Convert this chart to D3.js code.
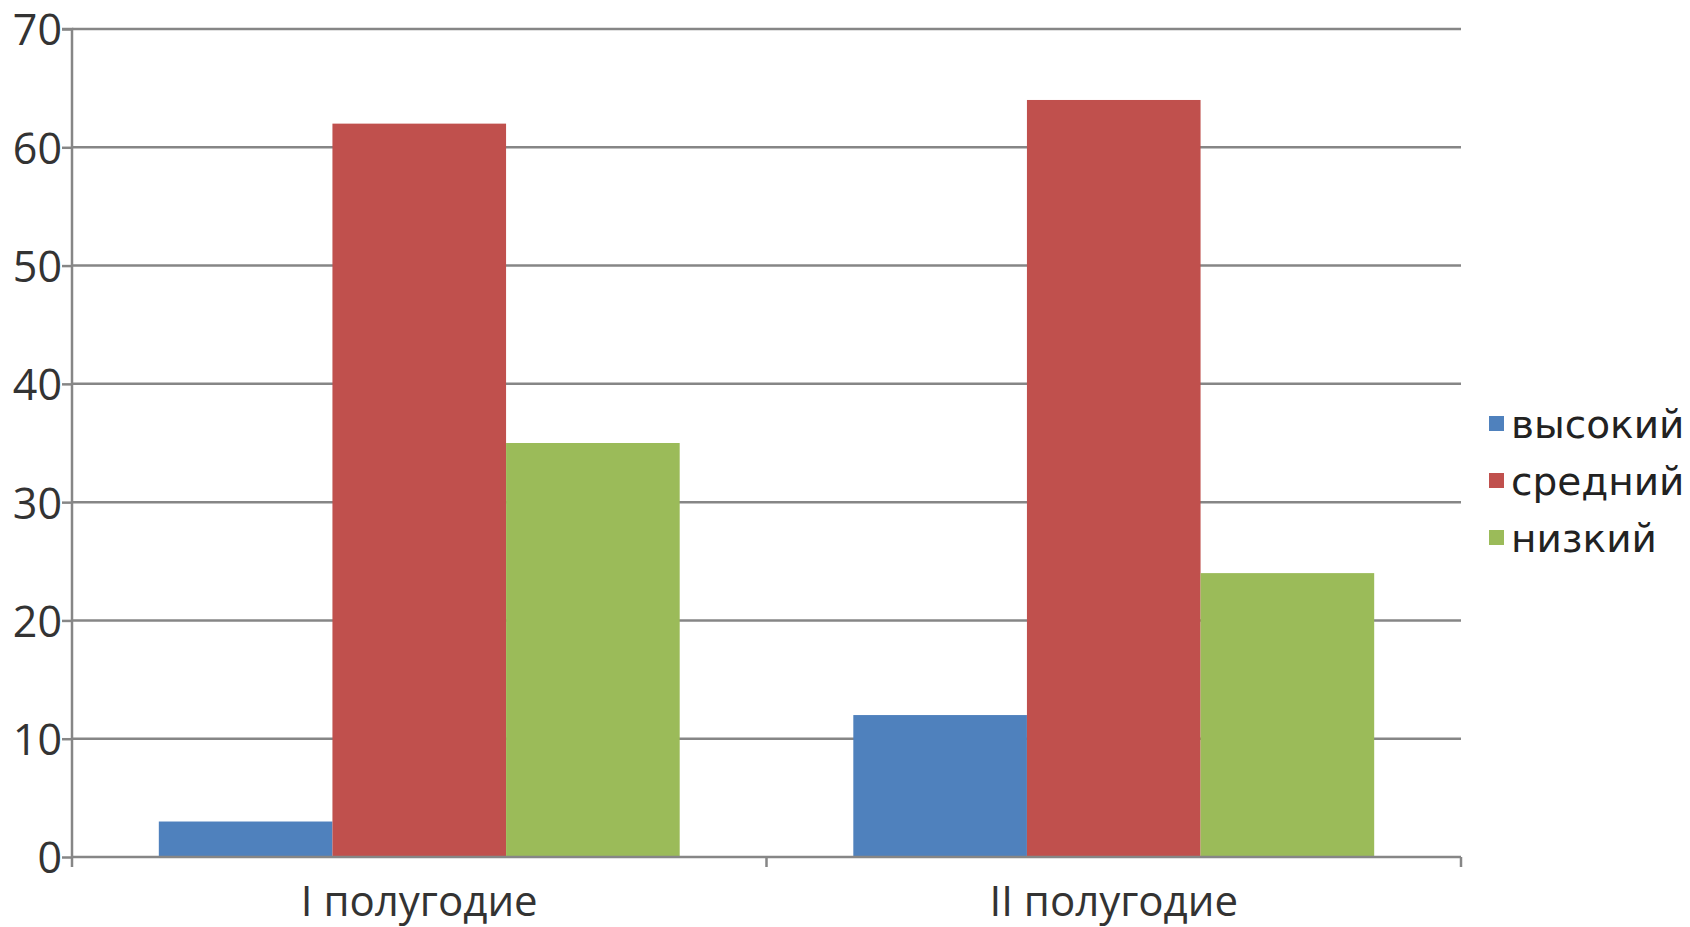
<!DOCTYPE html>
<html><head><meta charset="utf-8">
<script src="https://cdn.jsdelivr.net/npm/d3@7"></script>
<style>html,body{margin:0;padding:0;background:#fff;}</style>
</head><body>
<svg id="c" width="1690" height="927"></svg>
<script>
const categories = ["I полугодие", "II полугодие"];
const seriesNames = ["высокий", "средний", "низкий"];
const vysokiy = [3, 12];
const sredniy = [62, 64];
const nizkiy = [35, 24];
const yTicks = [0, 10, 20, 30, 40, 50, 60, 70];
const colors = ["#4F81BD", "#C0504D", "#9BBB59"];
const seriesValues = [vysokiy, sredniy, nizkiy];

const svg = d3.select("#c");
const L = 72, R = 1461, T = 29, B = 857;
const x0 = d3.scaleBand().domain(categories).range([L, R]).padding(0);
const bw = x0.bandwidth();
const x1 = d3.scaleBand().domain(seriesNames).range([bw * 0.125, bw * 0.875]).padding(0);
const y = d3.scaleLinear().domain([0, 70]).range([B, T]);
const grid = "#868686";

// gridlines
svg.append("g").selectAll("line").data(yTicks.filter(d => d > 0)).join("line")
  .attr("x1", L).attr("x2", R).attr("y1", d => y(d)).attr("y2", d => y(d))
  .attr("stroke", grid).attr("stroke-width", 2.5);

// bars
const rows = categories.map((c, i) => ({ c, vals: seriesNames.map((s, j) => ({ s, v: seriesValues[j][i], j })) }));
svg.append("g").selectAll("g").data(rows).join("g")
  .attr("transform", d => `translate(${x0(d.c)},0)`)
  .selectAll("rect").data(d => d.vals).join("rect")
  .attr("x", d => x1(d.s)).attr("width", x1.bandwidth())
  .attr("y", d => y(d.v)).attr("height", d => y(0) - y(d.v))
  .attr("fill", d => colors[d.j]);

// y axis
const yAxis = d3.axisLeft(y).tickValues(yTicks).tickSize(10).tickPadding(0);
const gy = svg.append("g").attr("transform", `translate(${L},0)`).call(yAxis);
gy.select(".domain").attr("stroke", grid).attr("stroke-width", 2.5).attr("d", `M-10,${T}H0V${B}`);
gy.selectAll(".tick line").attr("stroke", grid).attr("stroke-width", 2.5);
gy.selectAll(".tick text").attr("font-family", "Open Sans").attr("font-size", 43).attr("fill", "#333").attr("dy", "0.37em");

// x axis
const xAxis = d3.axisBottom(x0).tickSize(0).tickPadding(29);
const gx = svg.append("g").attr("transform", `translate(0,${B})`).call(xAxis);
gx.select(".domain").attr("stroke", grid).attr("stroke-width", 2.5).attr("d", `M${L},0H${R}`);
gx.selectAll(".tick text").attr("font-family", "Open Sans").attr("font-size", 42).attr("fill", "#333");
const bTicks = [L, L + bw, R];
svg.append("g").selectAll("line").data(bTicks).join("line")
  .attr("x1", d => d).attr("x2", d => d).attr("y1", B).attr("y2", B + 10)
  .attr("stroke", grid).attr("stroke-width", 2.5);

// legend
const lg = svg.append("g").attr("transform", "translate(1489,0)");
const li = lg.selectAll("g").data(seriesNames).join("g")
  .attr("transform", (d, i) => `translate(0,${424 + i * 57})`);
li.append("rect").attr("x", 0).attr("y", -8).attr("width", 15).attr("height", 15)
  .attr("fill", (d, i) => colors[i]);
li.append("text").attr("x", 22).attr("y", 14).text(d => d)
  .attr("font-family", "DejaVu Sans").attr("font-size", 39).attr("fill", "#222");
</script>
</body></html>
